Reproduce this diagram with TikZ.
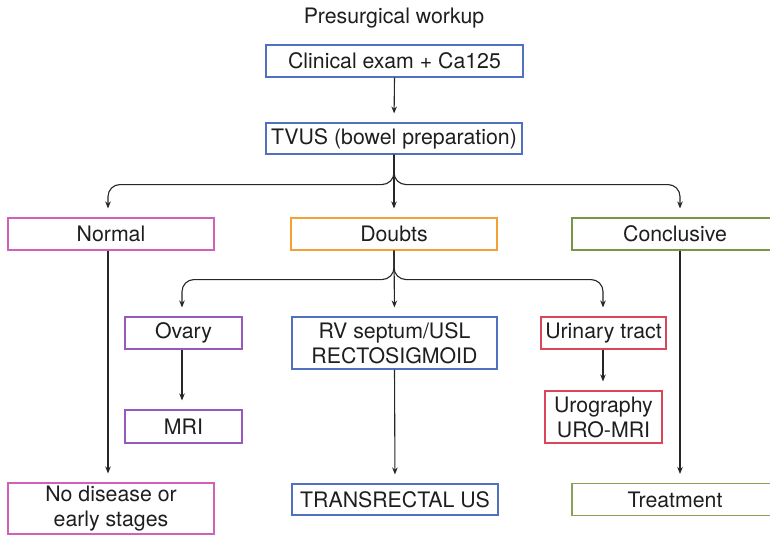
\documentclass[tikz,border=0pt]{standalone}
\usepackage{fontspec}
\setmainfont{TeX Gyre Heros}
\usetikzlibrary{arrows.meta,calc}
\definecolor{cblue}{RGB}{80,112,192}
\definecolor{cmag}{RGB}{210,95,185}
\definecolor{corange}{RGB}{245,160,50}
\definecolor{cgreen}{RGB}{120,150,70}
\definecolor{cpurple}{RGB}{150,90,190}
\definecolor{cred}{RGB}{220,70,90}
\definecolor{colive}{RGB}{140,160,90}
\definecolor{ctext}{RGB}{30,30,30}
\begin{document}
\begin{tikzpicture}[x=1pt,y=-1pt,
  every node/.style={font=\fontsize{21.3}{25}\selectfont, text=ctext},
  box/.style={line width=1.1pt, rectangle, inner sep=0pt, align=center},
  arr/.style={-{Stealth[length=7pt,width=5.5pt]}, line width=1.1pt, black!85, shorten >=9pt, rounded corners=12pt}]
\useasboundingbox (0,0) rectangle (770,535);
\node (title) at (394,18) {Presurgical workup};
\node[box, draw=cblue, minimum width=257, minimum height=32] (clin) at (394.5,61) {Clinical exam + Ca125};
\node[box, draw=cblue, minimum width=256, minimum height=31] (tvus) at (394,138.5) {TVUS (bowel preparation)};
\node[box, draw=cmag, minimum width=206, minimum height=32] (normal) at (111,234) {Normal};
\node[box, draw=corange, minimum width=206, minimum height=32] (doubts) at (394,234) {Doubts};
\node[box, draw=cgreen, minimum width=206, minimum height=32] (concl) at (675,234) {Conclusive};
\node[box, draw=cpurple, minimum width=117, minimum height=32] (ovary) at (183.5,333) {Ovary};
\node[box, draw=cblue, minimum width=205, minimum height=52] (rv) at (394.5,343) {RV septum/USL\\RECTOSIGMOID};
\node[box, draw=cred, minimum width=125, minimum height=32] (uri) at (603.5,333) {Urinary tract};
\node[box, draw=cpurple, minimum width=117, minimum height=33] (mri) at (183.5,426.5) {MRI};
\node[box, draw=cred, minimum width=117, minimum height=52] (urog) at (603.5,417) {Urography\\URO-MRI};
\node[box, draw=cmag, minimum width=206, minimum height=51] (nodis) at (111,508.5) {No disease or\\early stages};
\node[box, draw=cblue, minimum width=206, minimum height=31] (trans) at (395,499.5) {TRANSRECTAL US};
\node[box, draw=colive, minimum width=206, minimum height=32] (treat) at (675,499.5) {Treatment};
\draw[arr] (clin.south) -- (tvus.north);
\draw[arr] (tvus.south) -- (doubts.north);
\draw[arr] (tvus.south) -- ++(0,30) -| ([xshift=-3pt]normal.north);
\draw[arr] (tvus.south) -- ++(0,30) -| ([xshift=5pt]concl.north);
\draw[arr] (doubts.south) -- (rv.north);
\draw[arr] (doubts.south) -- ++(0,29) -| ([xshift=-1.5pt]ovary.north);
\draw[arr] (doubts.south) -- ++(0,29) -| ([xshift=-0.5pt]uri.north);
\draw[arr] ([xshift=-3pt]normal.south) -- ([xshift=-3pt]nodis.north);
\draw[arr] ([xshift=5pt]concl.south) -- ([xshift=5pt]treat.north);
\draw[arr] ([xshift=-1.5pt]ovary.south) -- ([xshift=-1.5pt]mri.north);
\draw[arr] ([xshift=-0.5pt]uri.south) -- ([xshift=-0.5pt]urog.north);
\draw[arr] (rv.south) -- (trans.north);
\end{tikzpicture}
\end{document}
